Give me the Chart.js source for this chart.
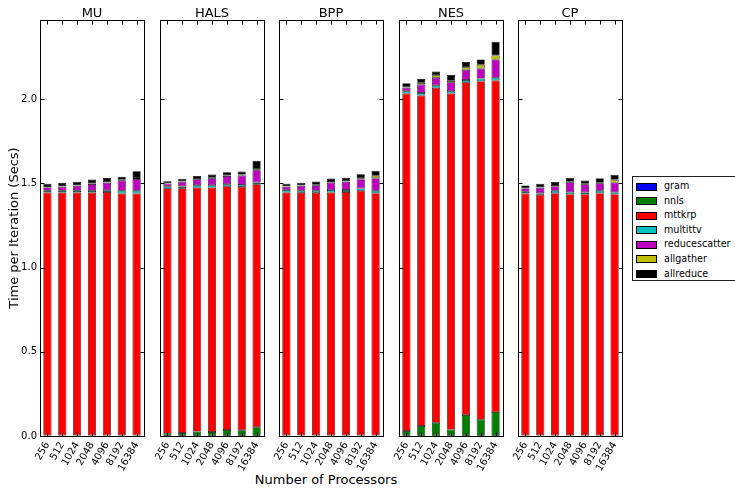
<!DOCTYPE html>
<html>
<head>
<meta charset="utf-8">
<script src="https://cdn.jsdelivr.net/npm/chart.js@4.4.1/dist/chart.umd.min.js"></script>
<style>
  html, body { margin: 0; padding: 0; background: #fff; }
  body { width: 735px; height: 488px; overflow: hidden; position: relative; font-family: "DejaVu Sans", sans-serif; }
  canvas { position: absolute; top: 0; }
  #xlabel { position: absolute; left: 176px; width: 300px; top: 472px; text-align: center; font-size: 13px; line-height: 16px; color: #000; }
  #legend { position: absolute; left: 632px; top: 176px; width: 120px; height: 105px; border: 1px solid #222; background: #fff; box-sizing: border-box; padding-top: 2px; }
  #legend .row { height: 14.6px; position: relative; font-size: 9.6px; line-height: 14.6px; }
  #legend .sw { position: absolute; left: 3px; top: 3.5px; width: 19px; height: 6px; border: 1px solid #000; }
  #legend .tx { position: absolute; left: 31px; top: 0; }
</style>
</head>
<body>
<div id="xlabel">Number of Processors</div>
<div id="legend"></div>
<script>
// processor counts on every x axis, one panel per algorithm
var PROCS = ["256", "512", "1024", "2048", "4096", "8192", "16384"];
var ALGOS = ["MU", "HALS", "BPP", "NES", "CP"];
var COMPONENTS = ["gram", "nnls", "mttkrp", "multittv", "reducescatter", "allgather", "allreduce"];
var COLORS = ["#0000ff", "#008000", "#ff0000", "#00bfbf", "#bf00bf", "#bfbf00", "#000000"];
var Y_TICKS = [0, 0.5, 1.0, 1.5, 2.0];

// seconds per iteration, rows = MU, HALS, BPP, NES, CP
var gram = [
  [0.002, 0.002, 0.002, 0.002, 0.002, 0.002, 0.002],
  [0.002, 0.002, 0.002, 0.002, 0.002, 0.002, 0.002],
  [0.002, 0.002, 0.002, 0.002, 0.002, 0.002, 0.002],
  [0.002, 0.002, 0.002, 0.002, 0.002, 0.002, 0.002],
  [0.002, 0.002, 0.002, 0.002, 0.002, 0.002, 0.002]
];
var nnls = [
  [0.001, 0.001, 0.001, 0.001, 0.001, 0.001, 0.001],
  [0.012, 0.016, 0.024, 0.022, 0.034, 0.032, 0.050],
  [0.001, 0.001, 0.001, 0.001, 0.001, 0.001, 0.001],
  [0.028, 0.057, 0.077, 0.036, 0.122, 0.095, 0.140],
  [0.001, 0.001, 0.001, 0.001, 0.001, 0.001, 0.001]
];
var mttkrp = [
  [1.443, 1.443, 1.443, 1.443, 1.446, 1.437, 1.437],
  [1.457, 1.453, 1.449, 1.451, 1.447, 1.445, 1.443],
  [1.443, 1.441, 1.441, 1.443, 1.446, 1.453, 1.439],
  [2.004, 1.963, 1.988, 1.996, 1.976, 2.010, 1.969],
  [1.437, 1.429, 1.439, 1.433, 1.433, 1.439, 1.433]
];
var multittv = [
  [0.010, 0.010, 0.010, 0.010, 0.010, 0.016, 0.016],
  [0.012, 0.010, 0.014, 0.014, 0.012, 0.012, 0.010],
  [0.014, 0.012, 0.012, 0.014, 0.012, 0.014, 0.014],
  [0.013, 0.015, 0.015, 0.013, 0.014, 0.015, 0.016],
  [0.010, 0.010, 0.014, 0.012, 0.010, 0.014, 0.012]
];
var reducescatter = [
  [0.020, 0.024, 0.030, 0.040, 0.045, 0.060, 0.070],
  [0.016, 0.028, 0.035, 0.041, 0.049, 0.055, 0.073],
  [0.020, 0.030, 0.033, 0.045, 0.049, 0.055, 0.075],
  [0.020, 0.050, 0.045, 0.053, 0.060, 0.060, 0.108],
  [0.020, 0.032, 0.026, 0.059, 0.049, 0.045, 0.057]
];
var allgather = [
  [0.002, 0.002, 0.002, 0.003, 0.003, 0.006, 0.006],
  [0.002, 0.002, 0.002, 0.003, 0.003, 0.006, 0.006],
  [0.002, 0.002, 0.003, 0.003, 0.003, 0.005, 0.014],
  [0.004, 0.010, 0.015, 0.010, 0.015, 0.022, 0.024],
  [0.002, 0.002, 0.002, 0.003, 0.003, 0.003, 0.016]
];
var allreduce = [
  [0.020, 0.020, 0.022, 0.024, 0.025, 0.018, 0.040],
  [0.012, 0.016, 0.018, 0.020, 0.019, 0.018, 0.050],
  [0.016, 0.016, 0.019, 0.021, 0.021, 0.024, 0.030],
  [0.024, 0.022, 0.022, 0.033, 0.031, 0.032, 0.082],
  [0.016, 0.022, 0.024, 0.023, 0.019, 0.027, 0.030]
];
var SERIES = [gram, nnls, mttkrp, multittv, reducescatter, allgather, allreduce];

var FONT = "'DejaVu Sans', sans-serif";
var LEFTS = [40, 160, 279, 399, 518];   // plot-area left edge of each panel
var PANEL_W = 104, SIDE = 40, Y_MAX = 2.47;

Chart.defaults.font.family = FONT;
Chart.defaults.color = "#000";

/* frame on all four sides plus matplotlib-style inward ticks */
var framePlugin = {
  id: "frame",
  afterDraw: function (chart) {
    var a = chart.chartArea, ctx = chart.ctx;
    var x = chart.scales.x, y = chart.scales.y;
    var L = Math.round(a.left) + 0.5, R = Math.round(a.right) + 0.5;
    var T = Math.round(a.top) + 0.5, B = Math.round(a.bottom) + 0.5;
    ctx.save();
    ctx.strokeStyle = "#000";
    ctx.lineWidth = 1;
    ctx.strokeRect(L, T, R - L, B - T);
    ctx.beginPath();
    Y_TICKS.forEach(function (v) {
      var py = Math.round(y.getPixelForValue(v)) + 0.5;
      ctx.moveTo(L, py); ctx.lineTo(L + 4, py);
      ctx.moveTo(R, py); ctx.lineTo(R - 4, py);
    });
    PROCS.forEach(function (_, i) {
      var px = Math.round(x.getPixelForValue(i)) + 0.5;
      ctx.moveTo(px, B); ctx.lineTo(px, B - 4);
      ctx.moveTo(px, T); ctx.lineTo(px, T + 4);
    });
    ctx.stroke();
    ctx.restore();
  }
};

function panel(i) {
  var cv = document.createElement("canvas");
  cv.width = PANEL_W + 2 * SIDE;
  cv.height = 488;
  cv.style.left = (LEFTS[i] - SIDE) + "px";
  document.body.appendChild(cv);

  new Chart(cv, {
    type: "bar",
    data: {
      labels: PROCS,
      datasets: COMPONENTS.map(function (name, k) {
        return {
          label: name,
          data: SERIES[k][i],
          backgroundColor: COLORS[k],
          borderColor: "#000",
          borderWidth: 0.7,
          borderSkipped: false,
          barPercentage: 0.55,
          categoryPercentage: 1
        };
      })
    },
    options: {
      responsive: false,
      animation: false,
      layout: { padding: 0 },
      plugins: {
        legend: { display: false },
        tooltip: { enabled: false },
        title: {
          display: true, text: ALGOS[i], color: "#000",
          font: { size: 13, weight: "normal", family: FONT, lineHeight: 1 },
          padding: { top: 7, bottom: 0 }
        }
      },
      scales: {
        x: {
          stacked: true,
          grid: { display: false, drawTicks: false },
          border: { display: false },
          ticks: { minRotation: 60, maxRotation: 60, autoSkip: false, padding: 4, font: { size: 10 }, color: "#000" },
          afterFit: function (s) { s.height = 52; }
        },
        y: {
          stacked: true, min: 0, max: Y_MAX,
          grid: { display: false, drawTicks: false },
          border: { display: false },
          ticks: {
            display: i === 0, stepSize: 0.5, includeBounds: false, padding: 3,
            font: { size: 10 }, color: "#000",
            callback: function (v) { return v.toFixed(1); }
          },
          title: {
            display: i === 0, text: "Time per Iteration (Secs)", color: "#000",
            font: { size: 13, family: FONT }, padding: { top: 7, bottom: 0 }
          },
          afterFit: function (s) { s.width = SIDE; }
        },
        // empty right-hand axis so the panel sits centred in its canvas
        yr: {
          position: "right", min: 0, max: Y_MAX,
          grid: { display: false, drawTicks: false },
          border: { display: false },
          ticks: { display: false },
          afterFit: function (s) { s.width = SIDE; }
        }
      }
    },
    plugins: [framePlugin]
  });
}

ALGOS.forEach(function (_, i) { panel(i); });

/* legend box outside the panels */
var box = document.getElementById("legend");
COMPONENTS.forEach(function (name, k) {
  var row = document.createElement("div");
  row.className = "row";
  var sw = document.createElement("span");
  sw.className = "sw";
  sw.style.background = COLORS[k];
  var tx = document.createElement("span");
  tx.className = "tx";
  tx.textContent = name;
  row.appendChild(sw);
  row.appendChild(tx);
  box.appendChild(row);
});
</script>
</body>
</html>
